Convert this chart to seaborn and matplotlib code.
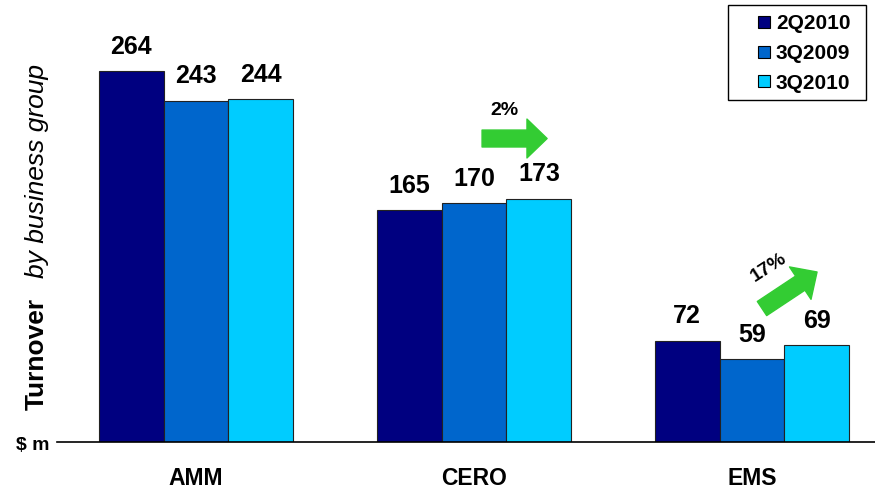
import matplotlib
matplotlib.use("Agg")
import matplotlib.pyplot as plt
from matplotlib.lines import Line2D
from matplotlib.patches import Rectangle
import seaborn as sns
import pandas as pd

groups = ["AMM", "CERO", "EMS"]
periods = ["2Q2010", "3Q2009", "3Q2010"]
v_2q2010 = [264, 165, 72]
v_3q2009 = [243, 170, 59]
v_3q2010 = [244, 173, 69]
colors = ["#000080", "#0066CC", "#00CCFF"]

rows = []
for p, vals in zip(periods, [v_2q2010, v_3q2009, v_3q2010]):
    for g, v in zip(groups, vals):
        rows.append({"group": g, "period": p, "value": v})
df = pd.DataFrame(rows)

sns.set_theme(style="white")
plt.rcParams["font.family"] = ["Liberation Sans", "DejaVu Sans"]
plt.rcParams["text.color"] = "black"
plt.rcParams["xtick.color"] = "black"
plt.rcParams["xtick.labelcolor"] = "black"

W, H = 875, 494
fig = plt.figure(figsize=(8.75, 4.94), dpi=100)
ax = fig.add_axes([57/W, 52/H, 834/W, 442/H])

sns.barplot(data=df, x="group", y="value", hue="period", order=groups,
            hue_order=periods, palette=colors, width=0.70, gap=0,
            edgecolor="#222222", linewidth=0.8, saturation=1, ax=ax,
            legend=False)

ax.set_xlim(-0.5, 2.5)
ax.set_ylim(0, 442/1.405)

for cont in ax.containers:
    ax.bar_label(cont, fmt="%d", padding=9, fontsize=18, fontweight="bold",
                 color="black")

for s in ["top", "right", "left"]:
    ax.spines[s].set_visible(False)
ax.spines["bottom"].set_color("black")
ax.spines["bottom"].set_linewidth(1.2)
ax.set_yticks([])
ax.set_xlabel("")
ax.set_ylabel("")
ax.set_xticks([0, 1, 2])
ax.set_xticklabels(groups, fontsize=16.5, fontweight="bold", color="black")
ax.tick_params(axis="x", which="major", length=0, pad=18)
ax.set_xticks([-0.5, 0.5, 1.5], minor=True)
ax.tick_params(axis="x", which="minor", length=7, width=1, color="#555555", direction="out")

# legend: entries plus a separate square frame
handles = [Line2D([], [], linestyle="none", marker="s", markersize=8,
                  markerfacecolor=c, markeredgecolor="black", markeredgewidth=0.8)
           for c in colors]
fig.add_artist(Rectangle((728/W, 1 - 100/H), 138/W, 95/H, transform=fig.transFigure,
                         facecolor="white", edgecolor="black", linewidth=1.0, zorder=4))
leg = fig.legend(handles, periods, loc="upper left",
                 bbox_to_anchor=(754/W, 1 - 14/H),
                 bbox_transform=fig.transFigure, frameon=False,
                 prop={"weight": "bold", "size": 15}, handlelength=1.0,
                 handletextpad=0.05, labelspacing=0.52,
                 borderpad=0, borderaxespad=0)
leg.set_zorder(5)

# y-axis caption
fig.text(44/W, (H-410)/H, "Turnover", rotation=90, rotation_mode="anchor",
         ha="left", va="baseline", fontsize=19, fontweight="bold")
fig.text(44/W, (H-278)/H, "by business group", rotation=90, rotation_mode="anchor",
         ha="left", va="baseline", fontsize=19, fontstyle="italic")
fig.text(50/W, (H-445)/H, "$ m", ha="right", va="center",
         fontsize=14, fontweight="bold")

# growth arrows
green = "#33CC33"
astyle = "simple,head_length=1.45,head_width=2.8,tail_width=1.22"
ax.annotate("", xy=(1.263, 216), xytext=(1.029, 216),
            arrowprops=dict(arrowstyle=astyle, color=green, mutation_scale=10,
                            shrinkA=0, shrinkB=0))
ax.text(1.11, 236, "2%", ha="center", va="center", fontsize=14, fontweight="bold")
ax.annotate("", xy=(2.234, 121), xytext=(2.036, 95),
            arrowprops=dict(arrowstyle=astyle, color=green, mutation_scale=10,
                            shrinkA=0, shrinkB=0))
ax.text(2.06, 124, "17%", ha="center", va="center", fontsize=14, fontweight="bold",
        rotation=33)

fig.savefig("out.png", dpi=100)
